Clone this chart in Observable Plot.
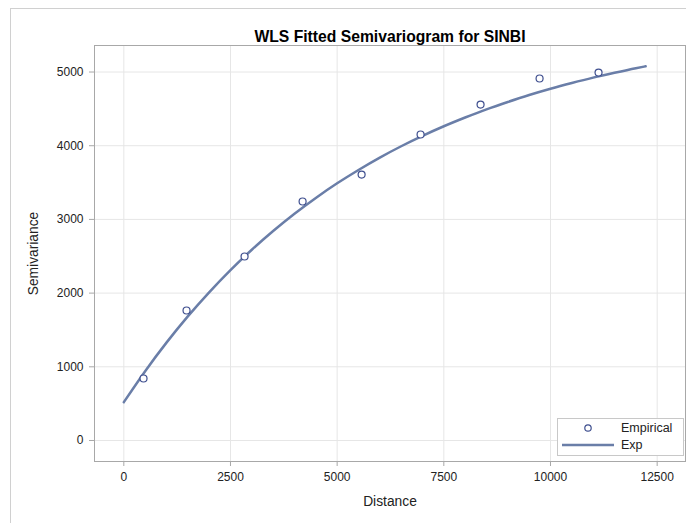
<!DOCTYPE html>
<html>
<head>
<meta charset="utf-8">
<script src="https://cdn.jsdelivr.net/npm/d3@7"></script>
<script src="https://cdn.jsdelivr.net/npm/@observablehq/plot@0.6"></script>
<style>
  html, body { margin: 0; padding: 0; background: #fff; }
  #chart { width: 686px; height: 523px; }
  svg { font-family: "Liberation Sans", Arial, sans-serif; }
</style>
</head>
<body>
<div id="chart"></div>
<script>
// Empirical semivariogram
const empDistance = [462, 1470, 2830, 4190, 5573, 6955, 8361, 9744, 11126];
const empSemivariance = [841, 1764, 2497, 3243, 3609, 4152, 4559, 4912, 4993];

// Fitted exponential model curve
const fitDistance = [0, 500, 1000, 1500, 2000, 2500, 3000, 3500, 4000, 4500, 5000, 5500, 6000,
  6500, 7000, 7500, 8000, 8500, 9000, 9500, 10000, 10500, 11000, 11500, 12000, 12230];
const fitSemivariance = [520, 941, 1328, 1684, 2011, 2312, 2589, 2843, 3077, 3292, 3490, 3671, 3839,
  3993, 4134, 4264, 4383, 4494, 4594, 4688, 4773, 4851, 4924, 4990, 5052, 5078];

const xTicks = [0, 2500, 5000, 7500, 10000, 12500];
const yTicks = [0, 1000, 2000, 3000, 4000, 5000];

const titleText = "WLS Fitted Semivariogram for SINBI";
const xLabel = "Distance";
const yLabel = "Semivariance";
const legendLabels = ["Empirical", "Exp"];

const lineColor = "#6A7EA8";
const markerColor = "#3F4F8F";

const emp = empDistance.map((d, i) => ({d, v: empSemivariance[i]}));
const fit = fitDistance.map((d, i) => ({d, v: fitSemivariance[i]}));

const plot = Plot.plot({
  width: 686,
  height: 523,
  marginLeft: 94,
  marginRight: 1,
  marginTop: 45,
  marginBottom: 62,
  style: {fontFamily: "'Liberation Sans', Arial, sans-serif", fontSize: "12px", color: "#222", background: "#fff"},
  x: {domain: [-687, 13164], ticks: xTicks},
  y: {domain: [-285, 5360], ticks: yTicks},
  marks: [
    Plot.gridX(xTicks, {stroke: "#e6e6e6", strokeOpacity: 1}),
    Plot.gridY(yTicks, {stroke: "#e6e6e6", strokeOpacity: 1}),
    Plot.frame({stroke: "#a8a8a8"}),
    Plot.axisX(xTicks, {tickSize: 5, tickPadding: 6, tickFormat: d3.format("d"), stroke: "#a8a8a8",
      label: null, fontSize: 12, fill: "#222"}),
    Plot.axisY(yTicks, {tickSize: 5, tickPadding: 6, tickFormat: d3.format("d"), stroke: "#a8a8a8",
      label: null, fontSize: 12, fill: "#222"}),
    Plot.text([xLabel], {frameAnchor: "bottom", dy: 44, fontSize: 13.8, fill: "#222"}),
    Plot.text([yLabel], {frameAnchor: "left", dx: -61, rotate: -90, textAnchor: "middle", fontSize: 13.8, fill: "#222"}),
    Plot.line(fit, {x: "d", y: "v", stroke: lineColor, strokeWidth: 2.5, curve: "monotone-x"}),
    Plot.dot(emp, {x: "d", y: "v", r: 3.5, stroke: markerColor, strokeWidth: 1.2, fill: "white"}),
    Plot.text([titleText], {frameAnchor: "top", dy: -15, fontSize: 15.7, fontWeight: "bold", fill: "#000"})
  ]
});

// outer border (behind everything)
const svg = d3.select(plot);
svg.insert("rect", ":first-child")
  .attr("x", 10.5).attr("y", 8.5).attr("width", 700).attr("height", 600)
  .attr("fill", "none").attr("stroke", "#d0d0d0");

// legend box inside plot area, bottom-right
const lg = svg.append("g").attr("class", "legend").attr("text-anchor", "start");
lg.append("rect").attr("x", 557.5).attr("y", 418.5).attr("width", 126).attr("height", 37)
  .attr("fill", "white").attr("stroke", "#c8c8c8");
lg.append("circle").attr("cx", 588).attr("cy", 428).attr("r", 3.2)
  .attr("fill", "white").attr("stroke", markerColor).attr("stroke-width", 1.2);
lg.append("text").attr("x", 621).attr("y", 432).attr("font-size", 12.5).attr("fill", "#222").text(legendLabels[0]);
lg.append("line").attr("x1", 562).attr("x2", 614).attr("y1", 445).attr("y2", 445)
  .attr("stroke", lineColor).attr("stroke-width", 2.5);
lg.append("text").attr("x", 621).attr("y", 449).attr("font-size", 12.5).attr("fill", "#222").text(legendLabels[1]);

document.getElementById("chart").appendChild(plot);
</script>
</body>
</html>
